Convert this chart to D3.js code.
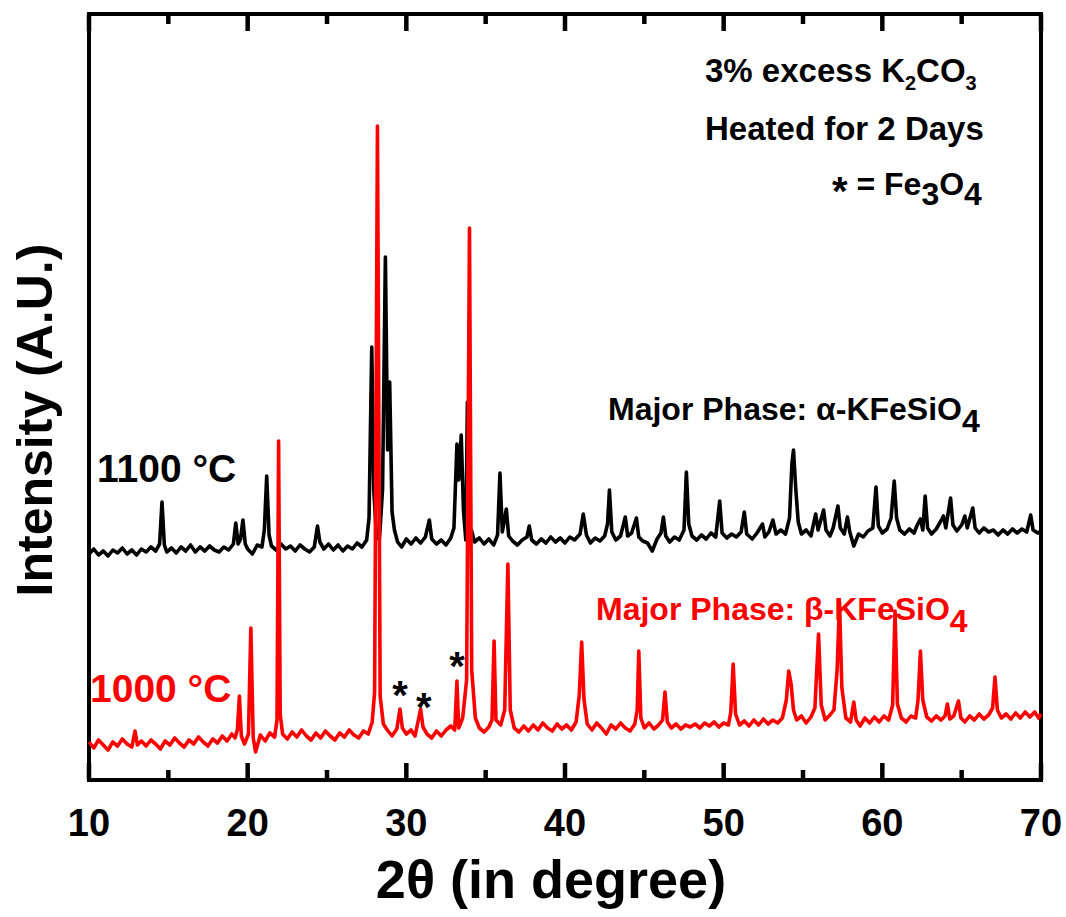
<!DOCTYPE html>
<html>
<head>
<meta charset="utf-8">
<script src="https://cdn.jsdelivr.net/npm/d3@7"></script>
<style>
  body { margin: 0; background: #fff; }
  text { font-family: 'Liberation Sans', Arial, sans-serif; font-weight: bold; }
</style>
</head>
<body>
<div class="canvas"></div>
<script>
// XRD scans, [2theta, intensity (a.u.)]
const scan1100 = [
  [10.0,226],[10.3,231],[10.6,225],[10.9,229],[11.2,224],[11.5,230],[11.8,227],[12.1,232],[12.4,226],[12.7,230],
  [13.0,225],[13.3,231],[13.6,228],[13.9,233],[14.2,229],[14.45,236],[14.6,278],[14.75,235],[14.9,228],[15.2,232],
  [15.5,227],[15.8,233],[16.1,229],[16.4,235],[16.7,228],[17.0,233],[17.3,229],[17.6,234],[17.9,230],[18.2,228],
  [18.5,233],[18.8,230],[19.1,236],[19.25,257],[19.4,236],[19.55,241],[19.7,260],[19.85,236],[20.0,231],[20.3,226],
  [20.6,235],[20.9,233],[21.05,250],[21.2,304],[21.35,245],[21.5,234],[21.8,230],[22.1,236],[22.4,231],[22.7,234],
  [23.0,229],[23.3,235],[23.6,231],[23.9,228],[24.2,233],[24.4,254],[24.55,238],[24.8,231],[25.1,236],[25.4,230],
  [25.7,235],[26.0,229],[26.3,234],[26.6,231],[26.9,237],[27.2,233],[27.5,240],[27.65,262],[27.82,433],[27.95,290],
  [28.1,248],[28.3,240],[28.5,290],[28.68,523],[28.82,330],[28.95,398],[29.1,268],[29.25,250],[29.45,238],[29.7,233],
  [30.0,241],[30.3,236],[30.6,242],[30.9,237],[31.2,243],[31.45,260],[31.6,241],[31.9,236],[32.2,240],[32.5,235],
  [32.8,242],[33.0,252],[33.19,336],[33.3,300],[33.46,345],[33.6,270],[33.75,240],[33.85,378],[33.95,245],[34.1,250],
  [34.3,238],[34.6,242],[34.9,236],[35.2,241],[35.5,235],[35.75,245],[35.9,307],[36.05,248],[36.3,271],[36.45,244],
  [36.7,239],[37.0,235],[37.3,240],[37.6,243],[37.75,254],[37.9,240],[38.2,236],[38.5,241],[38.8,237],[39.1,243],
  [39.4,238],[39.7,242],[40.0,237],[40.3,243],[40.6,240],[40.95,246],[41.15,266],[41.35,245],[41.6,237],[41.9,242],
  [42.2,239],[42.5,244],[42.68,256],[42.8,290],[42.95,248],[43.2,240],[43.5,244],[43.8,263],[43.95,244],[44.2,247],
  [44.5,262],[44.65,243],[44.9,239],[45.2,237],[45.5,229],[45.8,241],[46.05,247],[46.2,263],[46.35,244],[46.6,238],
  [46.9,243],[47.2,240],[47.5,250],[47.65,308],[47.8,256],[48.0,244],[48.3,240],[48.6,245],[48.9,241],[49.2,247],
  [49.5,243],[49.75,279],[49.9,247],[50.2,242],[50.5,246],[50.8,243],[51.1,248],[51.3,268],[51.45,246],[51.8,241],
  [52.1,247],[52.45,256],[52.6,243],[52.85,248],[53.1,260],[53.3,246],[53.6,250],[53.9,246],[54.15,262],[54.3,316],
  [54.4,330],[54.55,290],[54.7,258],[54.9,246],[55.2,250],[55.5,244],[55.8,266],[55.95,250],[56.3,270],[56.45,250],
  [56.7,244],[56.9,252],[57.2,274],[57.35,252],[57.6,246],[57.8,263],[57.95,248],[58.2,234],[58.5,246],[58.8,243],
  [59.1,249],[59.4,252],[59.6,293],[59.75,254],[60.0,247],[60.3,251],[60.55,262],[60.75,299],[60.9,262],[61.1,250],
  [61.4,246],[61.7,251],[62.0,247],[62.2,255],[62.4,261],[62.55,250],[62.7,284],[62.85,252],[63.1,246],[63.4,251],
  [63.65,258],[63.85,264],[64.0,252],[64.3,282],[64.45,255],[64.7,249],[65.0,255],[65.2,264],[65.35,252],[65.7,272],
  [65.85,252],[66.1,247],[66.4,252],[66.7,248],[67.0,250],[67.3,245],[67.6,250],[67.9,246],[68.2,251],[68.5,247],
  [68.8,251],[69.1,248],[69.35,265],[69.5,250],[69.8,247],[70.0,249]
];

const scan1000 = [
  [10.0,38],[10.3,32],[10.6,40],[10.9,35],[11.2,30],[11.5,38],[11.8,34],[12.1,41],[12.4,36],[12.7,33],
  [12.9,49],[13.05,35],[13.3,39],[13.6,34],[13.9,40],[14.2,36],[14.5,31],[14.8,39],[15.1,35],[15.4,42],
  [15.7,37],[16.0,33],[16.3,40],[16.6,36],[16.9,43],[17.2,38],[17.5,34],[17.8,41],[18.1,37],[18.4,44],
  [18.7,39],[19.0,46],[19.2,42],[19.35,50],[19.48,84],[19.6,44],[19.8,36],[20.05,46],[20.2,152],[20.35,42],
  [20.5,28],[20.8,45],[21.1,39],[21.4,47],[21.7,43],[21.85,60],[21.95,339],[22.05,66],[22.2,46],[22.5,41],
  [22.8,48],[23.1,43],[23.4,50],[23.7,44],[24.0,40],[24.3,47],[24.6,42],[24.9,49],[25.2,44],[25.5,40],
  [25.8,47],[26.1,43],[26.4,50],[26.7,45],[27.0,42],[27.3,49],[27.6,46],[27.85,58],[28.0,88],[28.18,654],
  [28.35,84],[28.55,56],[28.8,50],[29.1,44],[29.4,51],[29.6,71],[29.75,52],[30.0,46],[30.3,50],[30.55,44],
  [30.9,71],[31.05,53],[31.3,46],[31.6,42],[31.9,49],[32.2,44],[32.5,50],[32.8,54],[33.05,50],[33.19,99],
  [33.3,52],[33.55,62],[33.8,100],[33.98,552],[34.12,110],[34.35,62],[34.6,52],[34.9,48],[35.2,53],[35.4,60],
  [35.53,139],[35.65,60],[35.95,55],[36.2,70],[36.4,216],[36.55,70],[36.8,52],[37.1,48],[37.4,54],[37.7,49],
  [38.0,55],[38.3,50],[38.6,57],[38.9,52],[39.2,49],[39.5,56],[39.8,51],[40.1,55],[40.4,50],[40.7,58],
  [40.9,85],[41.05,138],[41.2,80],[41.4,56],[41.7,50],[42.0,57],[42.3,52],[42.6,46],[42.9,55],[43.2,51],
  [43.5,57],[43.8,52],[44.1,49],[44.4,56],[44.55,70],[44.65,129],[44.78,62],[45.0,52],[45.3,57],[45.6,51],
  [45.9,55],[46.15,60],[46.3,88],[46.45,58],[46.7,52],[47.0,56],[47.3,51],[47.6,55],[47.9,53],[48.2,56],
  [48.5,52],[48.8,57],[49.1,54],[49.4,58],[49.7,53],[50.0,57],[50.3,55],[50.45,68],[50.6,116],[50.75,66],
  [51.0,55],[51.3,59],[51.6,54],[51.9,60],[52.2,55],[52.5,61],[52.8,56],[53.1,60],[53.4,57],[53.7,62],
  [53.95,80],[54.1,109],[54.25,96],[54.4,70],[54.6,60],[54.9,64],[55.2,57],[55.5,63],[55.75,72],[55.98,146],
  [56.15,75],[56.4,60],[56.7,65],[56.95,70],[57.15,110],[57.3,178],[57.45,92],[57.7,62],[58.0,58],[58.2,78],
  [58.35,60],[58.6,54],[58.9,62],[59.2,57],[59.5,63],[59.8,58],[60.1,64],[60.4,60],[60.65,75],[60.8,169],
  [60.95,76],[61.2,62],[61.5,58],[61.8,64],[62.1,62],[62.25,80],[62.4,129],[62.55,80],[62.8,63],[63.1,59],
  [63.4,64],[63.7,60],[63.95,64],[64.1,76],[64.25,61],[64.5,64],[64.8,79],[64.95,62],[65.2,58],[65.5,64],
  [65.8,60],[66.1,66],[66.4,61],[66.7,65],[66.95,72],[67.1,103],[67.25,70],[67.5,62],[67.8,66],[68.1,61],
  [68.4,67],[68.7,62],[69.0,68],[69.3,63],[69.6,68],[69.85,62],[70.0,66]
];

// Fe3O4 impurity peaks marked with * (2theta, intensity of the mark)
const fe3o4Marks = [[29.6, 91], [31.1, 79], [33.2, 120]];

const majorTicks = [10, 20, 30, 40, 50, 60, 70];
const minorTicks = [15, 25, 35, 45, 55, 65];

// Dimensions
const dims = { width: 1066, height: 917 };
const plot = { left: 89, right: 1041, top: 14, bottom: 780 };

const svg = d3.select('.canvas')
    .append('svg')
    .attr('width', dims.width)
    .attr('height', dims.height);

// Scales
const x = d3.scaleLinear().domain([10, 70]).range([plot.left, plot.right]);
const y = d3.scaleLinear().domain([0, 766]).range([plot.bottom, plot.top]);

// Frame and ticks first, as one path per edge
const tickPath = d3.path();
majorTicks.forEach(t => {
    tickPath.moveTo(x(t), plot.bottom); tickPath.lineTo(x(t), plot.bottom - 17);
    tickPath.moveTo(x(t), plot.top); tickPath.lineTo(x(t), plot.top + 17);
});
minorTicks.forEach(t => {
    tickPath.moveTo(x(t), plot.bottom); tickPath.lineTo(x(t), plot.bottom - 10);
    tickPath.moveTo(x(t), plot.top); tickPath.lineTo(x(t), plot.top + 10);
});
svg.append('path')
    .attr('d', tickPath.toString())
    .attr('fill', 'none')
    .attr('stroke', '#000')
    .attr('stroke-width', 4.5);

svg.append('rect')
    .attr('x', plot.left)
    .attr('y', plot.top)
    .attr('width', plot.right - plot.left)
    .attr('height', plot.bottom - plot.top)
    .attr('fill', 'none')
    .attr('stroke', '#000')
    .attr('stroke-width', 4);

const line = d3.line()
    .x(d => x(d[0]))
    .y(d => y(d[1]));

// Patterns (red on top)
svg.append('path')
    .datum(scan1100)
    .attr('d', line)
    .attr('fill', 'none')
    .attr('stroke', '#000')
    .attr('stroke-width', 3.6)
    .attr('stroke-linejoin', 'round');

svg.append('path')
    .datum(scan1000)
    .attr('d', line)
    .attr('fill', 'none')
    .attr('stroke', '#ff0000')
    .attr('stroke-width', 3.6)
    .attr('stroke-linejoin', 'round');

// Asterisks for Fe3O4
svg.selectAll('.mark')
    .data(fe3o4Marks)
    .enter()
    .append('text')
        .attr('class', 'mark')
        .attr('x', d => x(d[0]))
        .attr('y', d => y(d[1]) + 20)
        .attr('text-anchor', 'middle')
        .attr('font-size', 40)
        .text('*');

// Tick labels
svg.append('g').selectAll('text')
    .data(majorTicks)
    .enter()
    .append('text')
        .attr('x', d => x(d))
        .attr('y', 836)
        .attr('text-anchor', 'middle')
        .attr('font-size', 38)
        .text(d => d);

// Axis titles
svg.append('text')
    .attr('x', 551)
    .attr('y', 898)
    .attr('text-anchor', 'middle')
    .attr('font-size', 54)
    .text('2θ (in degree)');

svg.append('text')
    .attr('transform', 'translate(52, 420) rotate(-90)')
    .attr('text-anchor', 'middle')
    .attr('font-size', 50)
    .text('Intensity (A.U.)');

// Annotations
const note1 = svg.append('text').attr('x', 705).attr('y', 82).attr('font-size', 33);
note1.append('tspan').text('3% excess K');
note1.append('tspan').attr('font-size', 20).attr('dy', 8).text('2');
note1.append('tspan').attr('dy', -8).text('CO');
note1.append('tspan').attr('font-size', 20).attr('dy', 8).text('3');

svg.append('text').attr('x', 705).attr('y', 140).attr('font-size', 33).text('Heated for 2 Days');

const note3 = svg.append('text').attr('x', 832).attr('y', 195).attr('font-size', 32);
note3.append('tspan').attr('font-size', 40).attr('dy', 10).text('*');
note3.append('tspan').attr('dy', -10).text(' = Fe');
note3.append('tspan').attr('dy', 10).text('3');
note3.append('tspan').attr('dy', -10).text('O');
note3.append('tspan').attr('dy', 10).text('4');

const phaseA = svg.append('text').attr('x', 608).attr('y', 420).attr('font-size', 32);
phaseA.append('tspan').text('Major Phase: α-KFeSiO');
phaseA.append('tspan').attr('dy', 12).text('4');

const phaseB = svg.append('text').attr('x', 596).attr('y', 620).attr('font-size', 32).attr('fill', '#ff0000');
phaseB.append('tspan').text('Major Phase: β-KFeSiO');
phaseB.append('tspan').attr('dy', 12).text('4');

svg.append('text').attr('x', 97).attr('y', 482).attr('font-size', 39).text('1100 °C');
svg.append('text').attr('x', 90).attr('y', 702).attr('font-size', 39).attr('fill', '#ff0000').text('1000 °C');
</script>
</body>
</html>
